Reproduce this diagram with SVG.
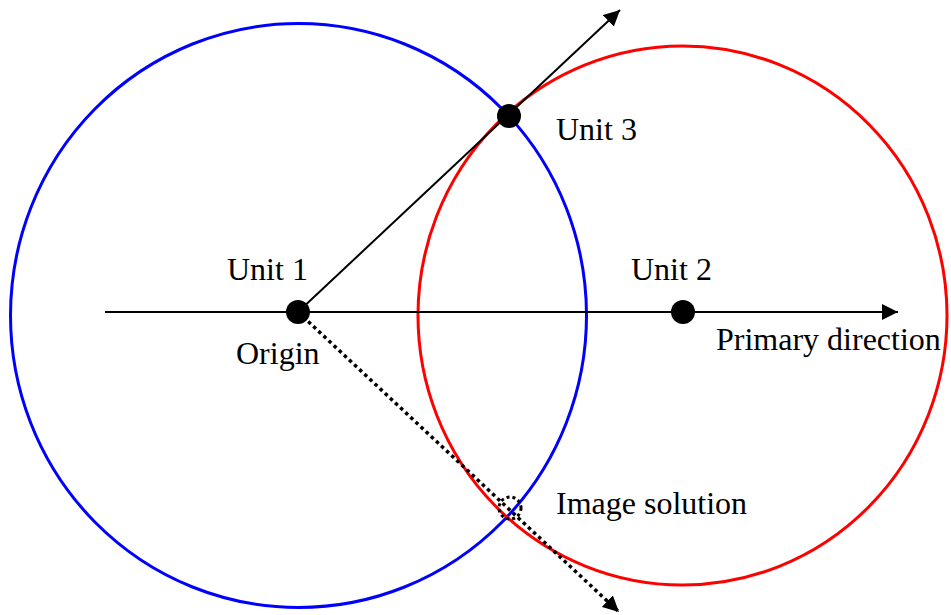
<svg xmlns="http://www.w3.org/2000/svg" width="951" height="615" viewBox="0 0 951 615">
<style>
  text { font-family: "Liberation Serif", "Times New Roman", serif; font-size: 32px; fill: #000; }
  .dot { fill: #000; }
  .ln { stroke: #000; stroke-width: 2; fill: none; }
</style>
<defs>
  <marker id="arrL" viewBox="0 0 10 10" refX="10" refY="5" markerWidth="16" markerHeight="16" markerUnits="userSpaceOnUse" orient="auto">
    <path d="M0,0 L10,5 L0,10 Z" fill="#000"/>
  </marker>
</defs>
<g id="circles">
  <ellipse id="blue-circle" cx="298.5" cy="315.5" rx="288" ry="292" fill="none" stroke="#0000ff" stroke-width="3"/>
  <ellipse id="red-circle" cx="682.5" cy="315.5" rx="264.5" ry="269.5" fill="none" stroke="#ff0000" stroke-width="3"/>
</g>
<g id="connectors">
  <line class="ln" x1="105" y1="312" x2="898" y2="312" marker-end="url(#arrL)"/>
  <line class="ln" x1="298" y1="312" x2="620" y2="10" marker-end="url(#arrL)"/>
  <line x1="298" y1="312" x2="619" y2="612" stroke="#000" stroke-width="3.5" stroke-dasharray="3.5,3.5" marker-end="url(#arrL)"/>
</g>
<g id="unit1">
  <circle class="dot" cx="298" cy="312" r="12"/>
  <text x="227" y="280">Unit 1</text>
  <text x="236" y="364">Origin</text>
</g>
<g id="unit2">
  <circle class="dot" cx="683" cy="312" r="12"/>
  <text x="631" y="280">Unit 2</text>
</g>
<g id="primary">
  <text x="716" y="350">Primary direction</text>
</g>
<g id="unit3">
  <circle class="dot" cx="509" cy="116" r="12"/>
  <text x="556" y="140">Unit 3</text>
</g>
<g id="image-solution">
  <circle cx="510" cy="508" r="11" fill="none" stroke="#000" stroke-width="3" stroke-dasharray="3,3"/>
  <text x="556" y="514">Image solution</text>
</g>
</svg>
